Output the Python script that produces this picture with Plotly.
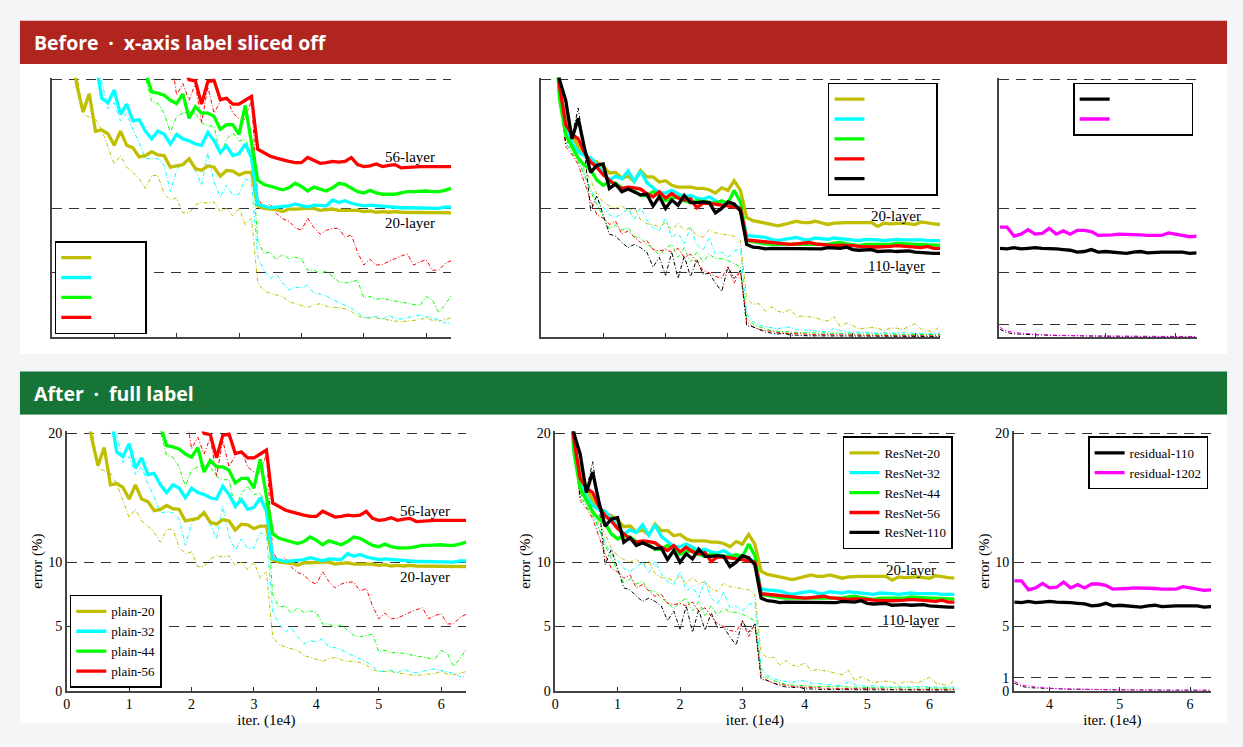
import plotly.graph_objects as go

W, H = 1243, 747

# ---------------- data (error %, iterations in 1e4) ----------------
X_GRID = [round(i * 0.1, 1) for i in range(65)]          # 0.0 .. 6.4
X_RES = [round(3.5 + i * 0.1, 1) for i in range(29)]     # 3.5 .. 6.3

X_TICKS_MAIN = [0, 1, 2, 3, 4, 5, 6]
X_TICKS_RES = [4, 5, 6]
Y_TICKS_MAIN = [0, 5, 10, 20]
Y_TICKS_RES = [0, 1, 5, 10, 20]

# plain nets
PLAIN_NAMES = ["plain-20", "plain-32", "plain-44", "plain-56"]
PLAIN_TEST_START = [0.3, 0.7, 1.5, 2.1]
PLAIN20_TEST = [22.5, 19.6, 17.5, 18.9, 16.0, 16.1, 15.8,
                14.9, 16.0, 14.9, 14.7, 14.0, 14.1, 14.4, 14.15, 14.1, 13.2,
                13.3, 13.4, 13.85, 13.1, 12.95, 13.3, 13.2, 12.5, 12.95, 12.9,
                12.6, 12.8, 12.8, 10.2, 10.0, 9.95, 9.9, 9.75, 9.95, 9.95,
                10.0, 10.0, 10.0, 9.85, 9.9, 9.95, 9.85, 9.85, 9.9, 9.85,
                9.75, 9.8, 9.7, 9.75, 9.7, 9.75, 9.7, 9.7, 9.65, 9.7,
                9.65, 9.65, 9.65, 9.65, 9.65]
PLAIN32_TEST = [21.5, 18.55, 18.2,
                19.2, 17.3, 18.1, 16.8, 16.9, 16.0, 15.4, 16.0, 15.75, 15.0,
                15.75, 15.4, 15.25, 15.0, 14.9, 15.9, 15.25, 14.35, 14.85, 14.1,
                14.25, 15.0, 13.95, 10.3, 10.15, 10.05, 10.1, 10.15, 10.2, 10.35,
                10.2, 10.1, 10.25, 10.2, 10.2, 10.65, 10.45, 10.6, 10.4, 10.3,
                10.2, 10.25, 10.2, 10.15, 10.1, 10.05, 10.05, 10.05, 10.05, 10.0,
                10.05, 10.05, 10.0, 10.1, 10.1]
PLAIN44_TEST = [20.6, 19.05, 18.95, 18.8, 18.4,
                18.15, 18.9, 17.0, 17.9, 17.4, 17.4, 17.15, 16.15, 16.5, 16.5,
                15.75, 18.0, 15.0, 12.2, 11.85, 11.7, 11.55, 11.45, 11.6, 11.95,
                11.7, 11.35, 11.65, 11.5, 11.35, 11.6, 11.95, 11.85, 11.6, 11.3,
                11.2, 11.4, 11.2, 11.1, 11.1, 11.1, 11.2, 11.3, 11.3, 11.35,
                11.35, 11.3, 11.3, 11.4, 11.55]
PLAIN56_TEST = [21.0, 20.0, 19.9, 18.1, 19.85, 19.95, 18.45, 18.55, 18.1,
                18.1, 18.4, 18.7, 14.6, 14.3, 14.05, 13.9, 13.75, 13.65, 13.55,
                13.55, 13.95, 13.75, 13.5, 13.55, 13.65, 13.6, 13.65, 13.95, 13.4,
                13.25, 13.3, 13.45, 13.25, 13.35, 13.4, 13.15, 13.2, 13.25, 13.25,
                13.25, 13.25, 13.25, 13.25, 13.25]

PLAIN_TRAIN_START = [0.4, 0.7, 1.4, 1.9]
PLAIN20_TRAIN = [20.5, 17.3, 17.1, 16.9, 16.1, 14.7,
                 13.45, 14.1, 13.2, 12.8, 12.3, 11.55, 12.55, 12.55, 11.15, 10.65,
                 10.8, 9.65, 9.65, 10.25, 10.5, 10.4, 10.5, 9.75, 10.0, 9.4,
                 10.0, 8.75, 9.25, 4.2, 3.6, 3.4, 3.3, 3.15, 2.75, 2.6,
                 2.4, 2.3, 2.5, 2.6, 2.4, 2.3, 2.3, 2.2, 2.0, 1.65,
                 1.5, 1.5, 1.5, 1.4, 1.3, 1.25, 1.2, 1.25, 1.25, 1.35,
                 1.5, 1.3, 1.25, 1.4, 1.5]
PLAIN32_TRAIN = [22.0, 19.8, 17.75,
                 18.2, 16.8, 17.4, 16.1, 15.1, 13.85, 13.9, 13.85, 13.35, 11.3,
                 12.95, 13.6, 13.85, 12.95, 11.8, 14.35, 12.05, 10.9, 11.8, 11.05,
                 11.1, 12.3, 12.05, 6.2, 5.2, 4.55, 4.9, 4.2, 3.65, 3.9,
                 3.8, 4.05, 3.4, 3.35, 3.2, 2.9, 2.7, 2.5, 2.25, 1.9,
                 1.5, 1.55, 1.6, 1.4, 1.7, 1.45, 1.4, 1.5, 1.65, 1.7,
                 1.6, 1.5, 1.35, 1.1, 1.1]
PLAIN44_TRAIN = [22.0, 20.2, 18.3, 18.15, 17.4, 15.9,
                 17.15, 17.4, 17.5, 17.4, 16.65, 16.4, 16.4, 14.1, 15.35, 15.9,
                 15.25, 15.35, 14.35, 7.5, 6.5, 6.6, 6.0, 6.45, 6.1, 6.2,
                 6.1, 5.2, 5.2, 4.95, 5.15, 4.7, 4.3, 4.2, 4.3, 4.4,
                 3.05, 3.15, 2.95, 3.0, 2.9, 2.8, 2.7, 2.6, 2.5, 2.45,
                 3.15, 2.9, 1.9, 2.5, 3.2]
PLAIN56_TRAIN = [22.0,
                 18.8, 19.7, 18.4, 19.7, 16.65, 19.45, 17.4, 18.3, 18.7, 17.4,
                 17.0, 16.9, 18.4, 10.8, 10.0, 10.35, 9.6, 9.2, 9.0, 8.5,
                 8.3, 9.25, 8.5, 8.0, 8.3, 8.45, 8.45, 7.75, 7.95, 6.6,
                 5.6, 6.05, 5.6, 5.65, 5.9, 6.1, 6.3, 6.45, 5.6, 5.85,
                 6.0, 5.2, 5.2, 5.7, 5.95]

# ResNets
RESNET_NAMES = ["ResNet-20", "ResNet-32", "ResNet-44", "ResNet-56", "ResNet-110"]
RESNET_START = 0.2
RESNET20_TEST = [26.0, 19.0, 17.2, 15.7, 14.8, 14.2, 13.8, 13.6,
                 13.25, 12.75, 12.8, 12.35, 12.5, 12.1, 12.95, 12.45, 12.45, 12.05,
                 12.15, 11.8, 11.65, 11.65, 11.65, 11.55, 11.55, 11.45, 11.2, 11.6,
                 11.4, 12.15, 11.4, 9.3, 9.05, 8.95, 8.85, 8.75, 8.65, 8.75,
                 8.85, 9.0, 8.9, 8.9, 9.0, 8.85, 8.75, 8.85, 8.9, 8.9,
                 8.9, 8.9, 8.9, 8.9, 8.6, 8.85, 8.8, 8.85, 8.85, 8.8,
                 8.75, 8.95, 8.85, 8.8, 8.75]
RESNET32_TEST = [26.0, 19.5, 16.5, 15.1, 14.4, 14.1, 13.95, 13.35,
                 12.85, 12.2, 12.5, 12.3, 12.9, 12.1, 12.9, 12.0, 11.6, 11.2,
                 11.2, 11.4, 11.15, 10.9, 11.0, 10.8, 10.7, 10.9, 10.6, 10.3,
                 10.4, 10.25, 10.0, 7.9, 7.85, 7.8, 7.75, 7.6, 7.5, 7.6,
                 7.65, 7.75, 7.6, 7.55, 7.7, 7.65, 7.6, 7.7, 7.65, 7.6,
                 7.55, 7.5, 7.6, 7.6, 7.55, 7.5, 7.55, 7.6, 7.55, 7.55,
                 7.6, 7.55, 7.5, 7.5, 7.5]
RESNET44_TEST = [26.0, 18.5, 15.7, 14.8, 13.9, 13.35, 13.0, 12.2,
                 11.8, 12.05, 11.95, 11.6, 11.55, 11.35, 11.0, 11.0, 11.3, 11.0,
                 10.6, 10.8, 10.9, 10.6, 10.45, 10.6, 10.55, 10.5, 10.4, 10.6,
                 10.4, 11.4, 10.5, 7.5, 7.4, 7.3, 7.25, 7.2, 7.2, 7.2,
                 7.2, 7.25, 7.2, 7.2, 7.25, 7.2, 7.2, 7.3, 7.35, 7.25,
                 7.15, 7.1, 7.2, 7.2, 7.15, 7.2, 7.2, 7.3, 7.25, 7.2,
                 7.2, 7.2, 7.15, 7.15, 7.15]
RESNET56_TEST = [26.0, 19.5, 16.5, 15.75, 15.4, 14.35, 13.6, 13.2,
                 12.6, 12.2, 11.8, 11.55, 11.65, 11.6, 11.5, 11.15, 10.9, 11.3,
                 10.8, 11.15, 10.8, 10.65, 10.75, 10.05, 10.4, 10.4, 10.3, 10.25,
                 10.2, 10.1, 10.0, 7.55, 7.5, 7.5, 7.45, 7.4, 7.35, 7.25,
                 7.2, 7.25, 7.3, 7.35, 7.25, 7.2, 7.2, 7.1, 7.15, 7.15,
                 7.1, 7.05, 7.0, 7.0, 7.0, 7.0, 7.05, 7.1, 7.05, 7.05,
                 7.0, 6.95, 7.05, 6.9, 6.9]
RESNET110_TEST = [26.0, 20.0, 18.4, 15.4, 17.0, 14.7, 12.8, 13.35,
                  13.45, 11.55, 11.9, 11.3, 11.5, 11.3, 11.05, 11.1, 10.2, 10.9,
                  10.0, 10.65, 10.25, 11.0, 10.45, 10.45, 10.5, 10.45, 9.65, 10.0,
                  10.5, 10.35, 9.8, 7.2, 7.0, 6.95, 6.85, 6.9, 6.9, 6.85,
                  6.85, 6.9, 6.85, 6.85, 6.85, 6.85, 6.95, 6.9, 6.9, 7.0,
                  6.8, 6.75, 6.8, 6.8, 6.65, 6.7, 6.7, 6.65, 6.7, 6.7,
                  6.6, 6.55, 6.5, 6.5, 6.5]

RESNET20_TRAIN = [26.0, 19.0, 15.5, 14.6, 14.3, 13.0, 12.2, 11.1,
                  10.5, 10.2, 10.0, 10.25, 9.7, 10.1, 9.1, 8.8, 8.75, 8.55,
                  8.9, 8.3, 8.85, 8.3, 8.5, 7.9, 7.75, 8.35, 8.1, 8.0,
                  7.9, 7.85, 7.5, 3.0, 2.55, 2.6, 2.0, 2.35, 2.0, 1.9,
                  2.2, 1.55, 1.65, 1.6, 1.5, 1.35, 1.25, 1.6, 0.8, 1.1,
                  0.9, 0.65, 0.7, 0.75, 0.7, 0.5, 0.7, 0.7, 0.6, 0.8,
                  1.05, 0.6, 0.5, 0.4, 0.85]
RESNET32_TRAIN = [26.0, 19.0, 15.0, 14.5, 13.9, 12.6, 11.5, 10.6,
                  10.1, 9.5, 9.3, 9.6, 10.0, 9.15, 10.1, 9.1, 8.5, 8.25,
                  9.25, 7.75, 8.1, 7.25, 8.5, 7.2, 6.75, 7.7, 6.45, 6.6,
                  6.2, 6.7, 6.85, 1.8, 1.2, 0.95, 0.8, 0.7, 0.65, 0.8,
                  0.75, 0.6, 0.55, 0.5, 0.45, 0.45, 0.4, 0.7, 0.5, 0.4,
                  0.35, 0.4, 0.35, 0.3, 0.3, 0.35, 0.3, 0.3, 0.35, 0.3,
                  0.3, 0.3, 0.25, 0.3, 0.3]
RESNET44_TRAIN = [26.0, 19.0, 15.1, 14.3, 13.6, 12.6, 11.3, 10.3,
                  9.4, 8.4, 8.7, 8.3, 8.5, 7.8, 7.7, 7.2, 6.9, 6.35,
                  6.9, 7.2, 6.2, 6.95, 5.85, 6.6, 5.85, 6.45, 6.1, 6.1,
                  5.95, 5.7, 5.45, 1.5, 1.0, 0.8, 0.65, 0.5, 0.45, 0.45,
                  0.4, 0.35, 0.35, 0.3, 0.3, 0.3, 0.3, 0.35, 0.3, 0.25,
                  0.25, 0.25, 0.25, 0.2, 0.2, 0.25, 0.2, 0.2, 0.2, 0.25,
                  0.2, 0.2, 0.2, 0.2, 0.2]
RESNET56_TRAIN = [26.0, 19.0, 14.8, 14.2, 13.4, 12.0, 10.6, 9.5,
                  9.25, 8.75, 9.0, 8.0, 8.25, 7.75, 7.35, 7.5, 6.8, 6.7,
                  6.8, 6.6, 6.9, 6.2, 6.45, 5.8, 5.2, 5.0, 4.7, 4.6,
                  5.45, 4.2, 5.2, 1.2, 0.8, 0.6, 0.5, 0.4, 0.35, 0.3,
                  0.3, 0.25, 0.25, 0.2, 0.2, 0.2, 0.2, 0.15, 0.2, 0.15,
                  0.15, 0.15, 0.15, 0.15, 0.1, 0.15, 0.1, 0.1, 0.1, 0.1,
                  0.1, 0.1, 0.1, 0.1, 0.1]
RESNET110_TRAIN = [26.0, 19.5, 15.0, 15.6, 17.8, 14.5, 9.8, 11.0,
                   9.5, 8.0, 7.85, 7.35, 6.95, 7.2, 6.95, 6.6, 5.45, 6.2,
                   4.8, 6.6, 4.55, 6.3, 4.7, 6.05, 4.9, 4.95, 4.2, 3.55,
                   5.45, 4.55, 5.2, 0.9, 0.8, 0.6, 0.4, 0.3, 0.25, 0.3,
                   0.15, 0.15, 0.1, 0.1, 0.1, 0.1, 0.08, 0.08, 0.08, 0.08,
                   0.06, 0.06, 0.06, 0.06, 0.05, 0.05, 0.05, 0.05, 0.05, 0.05,
                   0.05, 0.05, 0.05, 0.05, 0.05]

# residual-110 vs residual-1202
RES_NAMES = ["residual-110", "residual-1202"]
RES110_TEST = [6.9, 6.85, 6.95, 6.85, 6.9, 6.95, 6.9, 6.9, 6.85, 6.8,
               6.75, 6.6, 6.65, 6.8, 6.6, 6.65, 6.6, 6.6, 6.5, 6.6,
               6.65, 6.55, 6.6, 6.6, 6.6, 6.6, 6.6, 6.5, 6.55]
RES1202_TEST = [8.55, 8.55, 7.85, 8.0, 8.35, 8.0, 8.05, 8.45, 8.0, 8.25,
                8.0, 8.3, 8.3, 8.2, 7.9, 7.9, 7.95, 8.0, 8.0, 8.0,
                7.95, 7.9, 7.9, 7.9, 8.1, 8.0, 7.85, 7.8, 7.85]
RES110_TRAIN = [0.6, 0.35, 0.25, 0.22, 0.2, 0.18, 0.15, 0.14, 0.12, 0.12,
                0.1, 0.1, 0.09, 0.08, 0.08, 0.07, 0.07, 0.06, 0.06, 0.05,
                0.05, 0.05, 0.05, 0.05, 0.05, 0.04, 0.04, 0.04, 0.04]
RES1202_TRAIN = [0.75, 0.45, 0.38, 0.3, 0.28, 0.2, 0.2, 0.16, 0.15, 0.14,
                 0.12, 0.12, 0.1, 0.1, 0.08, 0.08, 0.07, 0.07, 0.06, 0.06,
                 0.06, 0.06, 0.06, 0.05, 0.06, 0.05, 0.05, 0.05, 0.05]

OLIVE, CYAN, GREEN, RED, BLACK, MAGENTA = "#bfbf00", "#00ffff", "#00ff00", "#ff0000", "#000000", "#ff00ff"


def grid_from(start, vals):
    i0 = X_GRID.index(start)
    return X_GRID[i0:i0 + len(vals)]


PLOTS = [
    dict(
        names=PLAIN_NAMES, colors=[OLIVE, CYAN, GREEN, RED],
        test=[(grid_from(s, v), v) for s, v in zip(PLAIN_TEST_START, [PLAIN20_TEST, PLAIN32_TEST, PLAIN44_TEST, PLAIN56_TEST])],
        train=[(grid_from(s, v), v) for s, v in zip(PLAIN_TRAIN_START, [PLAIN20_TRAIN, PLAIN32_TRAIN, PLAIN44_TRAIN, PLAIN56_TRAIN])],
        xrange=[0, 6.4], xticks=X_TICKS_MAIN, yticks=Y_TICKS_MAIN,
        notes=[("56-layer", 5.74, 13.97), ("20-layer", 5.74, 8.88)],
    ),
    dict(
        names=RESNET_NAMES, colors=[OLIVE, CYAN, GREEN, RED, BLACK],
        test=[(grid_from(RESNET_START, v), v) for v in [RESNET20_TEST, RESNET32_TEST, RESNET44_TEST, RESNET56_TEST, RESNET110_TEST]],
        train=[(grid_from(RESNET_START, v), v) for v in [RESNET20_TRAIN, RESNET32_TRAIN, RESNET44_TRAIN, RESNET56_TRAIN, RESNET110_TRAIN]],
        xrange=[0, 6.4], xticks=X_TICKS_MAIN, yticks=Y_TICKS_MAIN,
        notes=[("20-layer", 5.7, 9.39), ("110-layer", 5.7, 5.5)],
    ),
    dict(
        names=RES_NAMES, colors=[BLACK, MAGENTA],
        test=[(X_RES, RES110_TEST), (X_RES, RES1202_TEST)],
        train=[(X_RES, RES110_TRAIN), (X_RES, RES1202_TRAIN)],
        xrange=[3.49, 6.3], xticks=X_TICKS_RES, yticks=Y_TICKS_RES,
        notes=[],
    ),
]

Y_TOP = 20.15          # a hair above 20 so the dashed 20 line is kept
PX_PER_UNIT_Y = 13.1

# pixel layout of the two panels (y pixel of value 20 and of 0)
PANELS = [
    dict(title="Before\u2002\u00b7\u2002x-axis label sliced off", band="#b0261f",
         band_y=(16, 60), body_y=(60, 355), labels=False, axes=[1, 2, 3],
         dom_x=[(48, 448.6), (538.5, 939.1), (998.5, 1196.5)], y20=76, y0=338,
         legends=[(51, 335, "left", "bottom"), (937, 79, "right", "top"), (1193, 79, "right", "top")]),
    dict(title="After\u2002\u00b7\u2002full label", band="#167436",
         band_y=(373, 417), body_y=(417, 731), labels=True, axes=[4, 5, 6],
         dom_x=[(63, 463.6), (553, 953.6), (1013, 1211)], y20=436, y0=698,
         legends=[(66, 695, "left", "bottom"), (952, 439, "right", "top"), (1208, 439, "right", "top")]),
]

SERIF = "Liberation Serif, Times New Roman, serif"


def px_x(p):
    return p / W


def px_y(p):
    return 1 - p / H


fig = go.Figure()
layout = {}
shapes = []
annotations = []

for panel in PANELS:
    shapes.append(dict(type="rect", xref="paper", yref="paper", layer="below",
                       x0=px_x(16), x1=px_x(1227), y0=px_y(panel["band_y"][1]), y1=px_y(panel["band_y"][0]),
                       fillcolor=panel["band"], line=dict(width=0)))
    shapes.append(dict(type="rect", xref="paper", yref="paper", layer="below",
                       x0=px_x(16), x1=px_x(1227), y0=px_y(panel["body_y"][1]), y1=px_y(panel["body_y"][0]),
                       fillcolor="white", line=dict(width=0)))
    annotations.append(dict(text="<b>" + panel["title"] + "</b>", xref="paper", yref="paper",
                            x=px_x(28), y=px_y(sum(panel["band_y"]) / 2), xanchor="left", yanchor="middle",
                            showarrow=False, font=dict(family="Open Sans", size=19.5, color="white")))

    y_top_px = panel["y20"] - (Y_TOP - 20) * PX_PER_UNIT_Y
    for k, plot in enumerate(PLOTS):
        n = panel["axes"][k]
        sfx = "" if n == 1 else str(n)
        leg_id = "legend" if n == 1 else f"legend{n}"
        x0, x1 = panel["dom_x"][k]
        labels = panel["labels"]

        for (xs, ys), c in zip(plot["train"], plot["colors"]):
            fig.add_trace(go.Scatter(x=xs, y=ys, mode="lines", showlegend=False, hoverinfo="skip",
                                     line=dict(color=c, width=1, dash="4px,2px,1px,2px"),
                                     xaxis="x" + sfx, yaxis="y" + sfx))
        for (xs, ys), c, name in zip(plot["test"], plot["colors"], plot["names"]):
            fig.add_trace(go.Scatter(x=xs, y=ys, mode="lines", name=name, legend=leg_id, hoverinfo="skip",
                                     line=dict(color=c, width=3.3),
                                     xaxis="x" + sfx, yaxis="y" + sfx))

        layout["xaxis" + sfx] = dict(
            domain=[px_x(x0), px_x(x1)], range=plot["xrange"], anchor="y" + sfx,
            tickvals=plot["xticks"], ticks="inside", ticklen=4, tickcolor="#333",
            showline=True, linecolor="#444", linewidth=1.5, showgrid=False, zeroline=False,
            showticklabels=labels, tickfont=dict(family=SERIF, size=14, color="black"),
            title=dict(text="iter. (1e4)" if labels else "", standoff=0,
                       font=dict(family=SERIF, size=15, color="black")),
            fixedrange=True)
        layout["yaxis" + sfx] = dict(
            domain=[px_y(panel["y0"]), px_y(y_top_px)], range=[0, Y_TOP], anchor="x" + sfx,
            tickvals=plot["yticks"], ticks="inside", ticklen=4, tickcolor="#333",
            showline=True, linecolor="#444", linewidth=1.5, zeroline=False,
            showgrid=True, gridcolor="#333", gridwidth=1, griddash="10px,7px",
            showticklabels=labels, tickfont=dict(family=SERIF, size=14, color="black"),
            title=dict(text="error (%)" if labels else "", standoff=2,
                       font=dict(family=SERIF, size=15, color="black")),
            fixedrange=True)

        lx, ly, xa, ya = panel["legends"][k]
        layout[leg_id] = dict(
            x=px_x(lx), y=px_y(ly), xanchor=xa, yanchor=ya, xref="paper", yref="paper",
            bgcolor="white", bordercolor="black", borderwidth=1.5, tracegroupgap=0, itemwidth=30,
            font=dict(family=SERIF, size=13, color="black" if labels else "white"))

        for text, nx, ny in plot["notes"]:
            annotations.append(dict(text=text, x=nx, y=ny, xref="x" + sfx, yref="y" + sfx,
                                    showarrow=False, font=dict(family=SERIF, size=15, color="black")))

fig.update_layout(
    width=W, height=H, autosize=False,
    margin=dict(l=0, r=0, t=0, b=0),
    paper_bgcolor="#f4f5f7", plot_bgcolor="white",
    showlegend=True, shapes=shapes, annotations=annotations,
    **layout)

fig.write_html("out.html",
               post_script="document.body.style.margin='0';document.body.style.padding='0';"
                           "document.body.style.overflow='hidden';")
